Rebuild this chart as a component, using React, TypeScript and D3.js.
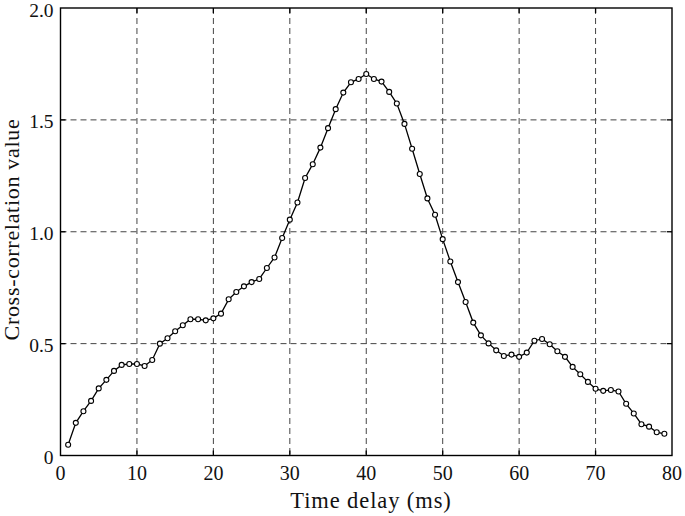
import React from "react";
import * as d3 from "d3";

const delays: number[] = Array.from({ length: 79 }, (_, i) => i + 1);
const values: number[] = [
  0.048, 0.146, 0.198, 0.244, 0.3, 0.338, 0.378, 0.405, 0.409, 0.409,
  0.4, 0.427, 0.5, 0.524, 0.555, 0.582, 0.609, 0.609, 0.604, 0.613,
  0.634, 0.698, 0.731, 0.756, 0.775, 0.789, 0.838, 0.885, 0.972, 1.054,
  1.131, 1.24, 1.302, 1.376, 1.463, 1.548, 1.622, 1.668, 1.683, 1.705,
  1.683, 1.671, 1.625, 1.573, 1.482, 1.371, 1.258, 1.149, 1.076, 0.967,
  0.867, 0.775, 0.686, 0.594, 0.537, 0.501, 0.47, 0.445, 0.451, 0.441,
  0.46, 0.513, 0.521, 0.497, 0.466, 0.441, 0.396, 0.363, 0.329, 0.298,
  0.289, 0.293, 0.286, 0.231, 0.188, 0.14, 0.129, 0.104, 0.097,
];
const xTicks: number[] = [0, 10, 20, 30, 40, 50, 60, 70, 80];
const yTicks: number[] = [0, 0.5, 1.0, 1.5, 2.0];
const xLabel = "Time delay (ms)";
const yLabel = "Cross-correlation value";

export default function App() {
  const W = 685, H = 516;
  const left = 60.5, right = 672, top = 8, bottom = 455.5;
  const x = d3.scaleLinear().domain([0, 80]).range([left, right]);
  const y = d3.scaleLinear().domain([0, 2]).range([bottom, top]);
  const line = d3.line<number>().x((_, i) => x(delays[i])).y((d) => y(d));
  const font = "'Liberation Serif', 'Times New Roman', serif";
  const fmtY = (v: number) => (v === 0 ? "0" : v.toFixed(1));
  return (
    <svg width={W} height={H} style={{ position: "absolute", left: 0, top: 0, background: "#fff" }} fontFamily={font}>
      {xTicks.slice(1, -1).map((t) => (
        <line key={"gx" + t} x1={x(t)} x2={x(t)} y1={top} y2={bottom} stroke="#444" strokeWidth={1} strokeDasharray="6,4" />
      ))}
      {yTicks.slice(1, -1).map((t) => (
        <line key={"gy" + t} x1={left} x2={right} y1={y(t)} y2={y(t)} stroke="#444" strokeWidth={1} strokeDasharray="6,4" />
      ))}
      {xTicks.slice(1, -1).map((t) => (
        <g key={"tx" + t}>
          <line x1={x(t)} x2={x(t)} y1={bottom} y2={bottom - 5} stroke="#000" strokeWidth={1.3} />
          <line x1={x(t)} x2={x(t)} y1={top} y2={top + 5} stroke="#000" strokeWidth={1.3} />
        </g>
      ))}
      {yTicks.slice(1, -1).map((t) => (
        <g key={"ty" + t}>
          <line x1={left} x2={left + 5} y1={y(t)} y2={y(t)} stroke="#000" strokeWidth={1.3} />
          <line x1={right} x2={right - 5} y1={y(t)} y2={y(t)} stroke="#000" strokeWidth={1.3} />
        </g>
      ))}
      <rect x={left} y={top} width={right - left} height={bottom - top} fill="none" stroke="#000" strokeWidth={1.4} />
      <path d={line(values) || ""} fill="none" stroke="#000" strokeWidth={1.3} />
      {values.map((v, i) => (
        <circle key={i} cx={x(delays[i])} cy={y(v)} r={2.5} fill="#fff" stroke="#000" strokeWidth={1.1} />
      ))}
      {xTicks.map((t) => (
        <text key={"lx" + t} x={x(t)} y={bottom + 24} textAnchor="middle" fontSize={20} fill="#111">
          {t}
        </text>
      ))}
      {yTicks.map((t) => (
        <text key={"ly" + t} x={left - 7} y={y(t) + 8.5} textAnchor="end" fontSize={19.5} fill="#111">
          {fmtY(t)}
        </text>
      ))}
      <text x={371} y={508} textAnchor="middle" fontSize={22.5} letterSpacing={0.9} fill="#111">
        {xLabel}
      </text>
      <text transform={`translate(19,229.5) rotate(-90)`} textAnchor="middle" fontSize={22} letterSpacing={0.7} fill="#111">
        {yLabel}
      </text>
    </svg>
  );
}
